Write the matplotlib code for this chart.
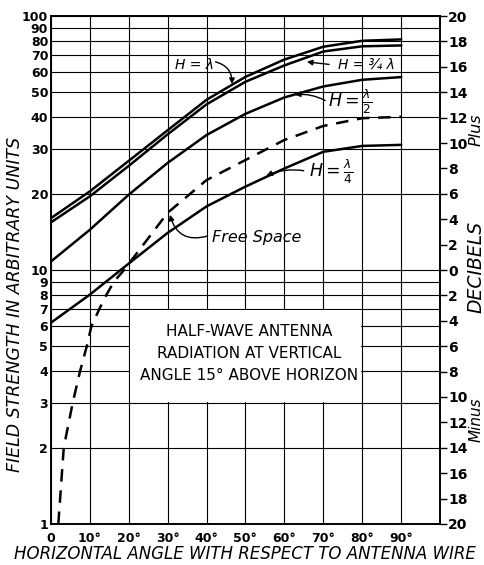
import numpy as np
import matplotlib.pyplot as plt
from matplotlib.patches import Rectangle

# field strength, every 10 degrees
angles = [0, 10, 20, 30, 40, 50, 60, 70, 80, 90]
h_full = [16.0, 20.4, 26.9, 35.5, 46.8, 57.6, 67.4, 75.7, 79.9, 80.9]
h_3q = [15.4, 19.5, 25.7, 34.2, 44.9, 55.1, 63.9, 72.5, 76.0, 76.6]
h_half = [10.8, 14.4, 19.8, 26.4, 34.0, 41.2, 47.8, 52.8, 56.1, 57.5]
h_quarter = [6.2, 8.0, 10.6, 14.0, 17.8, 21.3, 25.1, 29.2, 30.8, 31.1]

# free space curve (dashed), denser near the origin
fs_angles = [1.9, 3.3, 5.6, 7.5, 9.2, 10.4, 12.4, 14.3, 16.2, 18.8, 30, 40, 50, 60, 70, 80, 90]
fs_field = [1.0, 2.0, 3.0, 4.0, 5.0, 6.0, 7.0, 8.0, 9.0, 10.0, 16.8, 22.6, 27.1, 32.5, 36.9, 39.6, 40.1]

left_ticks = [1, 2, 3, 4, 5, 6, 7, 8, 9, 10, 20, 30, 40, 50, 60, 70, 80, 90, 100]
x_ticks = [0, 10, 20, 30, 40, 50, 60, 70, 80, 90]
x_labels = ['0', '10°', '20°', '30°', '40°', '50°', '60°', '70°', '80°', '90°']
db_ticks = list(range(-20, 21, 2))

fig = plt.figure(figsize=(4.85, 5.65), dpi=100)
ax = fig.add_axes([0.105, 0.0726, 0.802, 0.899])
ax.set_yscale('log')
ax.set_xlim(0, 100)
ax.set_ylim(1, 100)

# grid
for v in left_ticks:
    ax.axhline(v, color='black', lw=0.8, zorder=1)
for v in range(0, 101, 10):
    ax.axvline(v, color='black', lw=0.8, zorder=1)

# blank area for the title box
ax.add_patch(Rectangle((20.4, 3.03), 59.2, 3.92, facecolor='white',
                       edgecolor='none', zorder=1.5))
ax.text(51, 4.68, 'HALF-WAVE ANTENNA\nRADIATION AT VERTICAL\nANGLE 15° ABOVE HORIZON',
        ha='center', va='center', fontsize=11, linespacing=1.6, zorder=2)

ax.plot(angles, h_full, color='black', lw=1.8, zorder=3)
ax.plot(angles, h_3q, color='black', lw=1.8, zorder=3)
ax.plot(angles, h_half, color='black', lw=1.8, zorder=3)
ax.plot(angles, h_quarter, color='black', lw=1.8, zorder=3)
ax.plot(fs_angles, fs_field, color='black', lw=1.8, ls=(0, (5, 3.5)), zorder=3)

ax.set_yticks(left_ticks)
ax.set_yticklabels([str(v) for v in left_ticks])
ax.yaxis.set_minor_locator(plt.NullLocator())
ax.set_xticks(x_ticks)
ax.set_xticklabels(x_labels)
ax.tick_params(axis='both', length=0, labelsize=9)
ax.tick_params(axis='x', pad=6)
ax.tick_params(axis='y', pad=2)
for lab in ax.get_xticklabels() + ax.get_yticklabels():
    lab.set_fontweight('bold')
for s in ax.spines.values():
    s.set_linewidth(1.2)

ax.set_xlabel('HORIZONTAL ANGLE WITH RESPECT TO ANTENNA WIRE',
              fontsize=12, style='italic', labelpad=0)
fig.text(0.031, 0.462, 'FIELD STRENGTH IN ARBITRARY UNITS', rotation=90,
         fontsize=12.5, style='italic', ha='center', va='center')

# decibel scale on the right
ax2 = ax.twinx()
ax2.set_ylim(-20, 20)
ax2.set_yticks(db_ticks)
ax2.set_yticklabels([str(abs(v)) for v in db_ticks])
ax2.tick_params(axis='y', length=5, width=1, labelsize=10, pad=1)
for lab in ax2.get_yticklabels():
    lab.set_fontweight('bold')
for s in ax2.spines.values():
    s.set_linewidth(1.2)
fig.text(0.982, 0.77, 'Plus', rotation=90, fontsize=11.5, style='italic',
         ha='center', va='center')
fig.text(0.981, 0.527, 'DECIBELS', rotation=90, fontsize=13.5, style='italic',
         ha='center', va='center')
fig.text(0.982, 0.257, 'Minus', rotation=90, fontsize=11, style='italic',
         ha='center', va='center')

# curve labels with arrows
arrow = dict(arrowstyle='-|>', color='black', lw=1, mutation_scale=8,
             shrinkA=0, shrinkB=0)
ax.text(37, 64, 'H = λ', fontsize=10, style='italic', ha='center', va='center')
ax.annotate('', xy=(46.5, 54), xytext=(42.3, 66),
            arrowprops=dict(arrow, connectionstyle='arc3,rad=-0.4'))
ax.text(81, 64.5, 'H = ¾ λ', fontsize=10, style='italic', ha='center', va='center')
ax.annotate('', xy=(65.8, 66), xytext=(71.5, 64.5),
            arrowprops=dict(arrow, connectionstyle='arc3,rad=0'))
ax.text(77, 46, r'$H=\frac{\lambda}{2}$', fontsize=12.5, ha='center', va='center')
ax.annotate('', xy=(62.7, 49), xytext=(70.5, 46.5),
            arrowprops=dict(arrow, connectionstyle='arc3,rad=0.15'))
ax.text(72, 24.3, r'$H=\frac{\lambda}{4}$', fontsize=12.5, ha='center', va='center')
ax.annotate('', xy=(55.4, 23.5), xytext=(65, 24.6),
            arrowprops=dict(arrow, connectionstyle='arc3,rad=0.15'))
ax.text(53, 13.4, 'Free Space', fontsize=11.5, style='italic', ha='center', va='center')
ax.annotate('', xy=(30.6, 16.5), xytext=(40.2, 13.6),
            arrowprops=dict(arrow, connectionstyle='arc3,rad=-0.5'))

fig.savefig('out.png', dpi=100)
